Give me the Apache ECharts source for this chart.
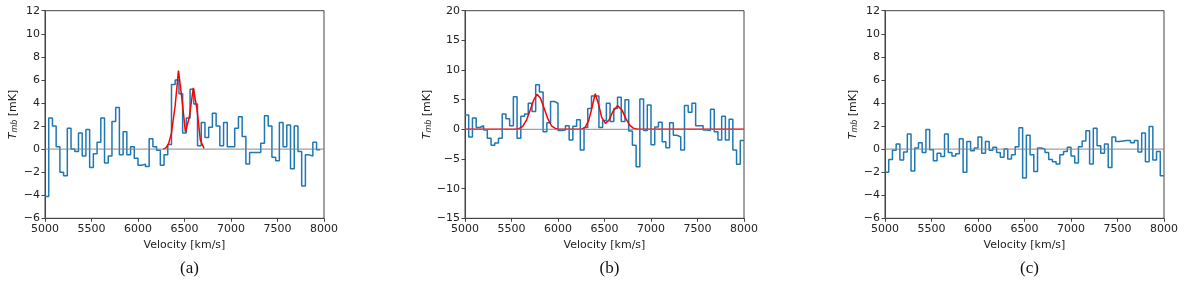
<!DOCTYPE html>
<html>
<head>
<meta charset="utf-8">
<script src="https://cdn.jsdelivr.net/npm/echarts@6/dist/echarts.min.js"></script>
<style>html,body{margin:0;padding:0;background:#fff;}#c{width:1200px;height:282px;}</style>
</head>
<body>
<div id="c"></div>
<script>
// ---- data ----
const binStart = 5000;   // km/s, left edge of first channel
const binWidth = 40;     // km/s, channel width
const xTicks = [5000, 5500, 6000, 6500, 7000, 7500, 8000];
const yTicksA = [-6, -4, -2, 0, 2, 4, 6, 8, 10, 12];
const yTicksB = [-15, -10, -5, 0, 5, 10, 15, 20];
const yTicksC = [-6, -4, -2, 0, 2, 4, 6, 8, 10, 12];
const captions = ['(a)', '(b)', '(c)'];

const specA = [-4.1, 2.7, 2.0, 0.2, -2.0, -2.3, 1.8, 0.0, -0.2, 1.4,
  -0.6, 1.7, -1.6, -0.4, 0.6, 2.7, -1.2, -0.6, 2.4, 3.6,
  -0.5, 1.5, -0.5, 0.2, -0.8, -1.4, -1.3, -1.5, 0.9, 0.2,
  -0.1, -1.4, -0.5, 0.4, 5.6, 6.0, 4.8, 1.4, 2.7, 5.2,
  3.9, 0.3, 2.3, 1.0, 1.9, 3.1, 2.0, 0.3, 2.3, 0.2,
  0.2, 1.8, 2.8, 1.1, -1.3, -0.3, -0.3, -0.3, 0.5, 2.9,
  2.0, -0.7, -1.0, 2.3, 0.2, 2.1, -1.7, 2.0, -0.2, -3.2,
  -0.5, -0.6, 0.6, -0.05];
const fitAx = [6270, 6300, 6330, 6360, 6400, 6435, 6470, 6510, 6550, 6595, 6635, 6670, 6710];
const fitAy = [0.0, 0.1, 0.5, 1.4, 3.8, 6.8, 4.5, 1.5, 2.7, 5.3, 3.4, 0.8, 0.05];

const specB = [2.4, -1.3, 1.9, 0.3, 0.6, -0.1, -1.5, -2.7, -2.3, -1.5,
  2.6, 1.8, 0.6, 5.5, -1.5, 2.2, 2.6, 4.4, 3.0, 7.5,
  6.3, -0.4, 1.1, 4.7, 4.4, -0.2, -0.1, 0.6, -1.8, 0.5,
  1.6, -3.5, 0.3, 3.5, 5.6, 5.6, 0.3, 1.5, 4.4, 1.3,
  3.5, 5.4, 1.3, 5.0, -0.3, -2.7, -6.3, 5.1, -0.2, 4.1,
  -2.6, 0.4, 1.2, -2.1, -3.1, 1.1, -1.0, -1.3, -3.5, 4.0,
  2.9, 4.4, 0.6, 0.6, -0.1, -0.2, 3.4, -0.4, -1.8, 2.2,
  -1.8, 1.7, -3.5, -5.9, -1.9];
const fitBx = [5000, 5540, 5580, 5620, 5660, 5700, 5740, 5775, 5810, 5850, 5890, 5930, 5970, 6010,
  6250, 6290, 6330, 6360, 6400, 6440, 6470, 6510, 6550, 6590, 6640, 6690, 6730, 6770, 6810, 6860, 8000];
const fitBy = [0, 0, 0.1, 0.5, 1.5, 3.2, 5.0, 5.9, 5.3, 3.6, 1.8, 0.6, 0.15, 0.02,
  0, 0.3, 1.5, 3.3, 6.0, 4.0, 2.0, 1.0, 1.6, 3.0, 4.0, 3.2, 1.8, 0.7, 0.2, 0.02, 0];

const specC = [-2.0, -0.9, -0.1, 0.45, -0.95, -0.25, 1.3, -1.9, 0.1, 0.55,
  -0.3, 1.7, -0.05, -1.0, -0.35, -0.65, 1.3, -0.3, -0.6, -0.4,
  0.9, -2.0, 0.65, -0.15, 0.1, 1.05, -0.35, 0.65, -0.1, 0.15,
  -0.3, -0.7, 0.0, -0.85, -0.5, 0.2, 1.85, -2.5, 1.2, -0.5,
  -1.95, 0.1, 0.0, -0.3, -0.9, -1.1, -1.3, -0.5, -0.2, 0.15,
  -0.6, -1.2, 0.2, 0.7, 1.6, -1.3, 1.8, 0.3, -0.35, 0.45,
  -1.6, 1.05, 0.65, 0.7, 0.75, 0.75, 0.55, 0.75, -0.25, 1.4,
  -1.1, 1.95, -0.95, -0.2, -2.3];

// ---- helpers ----
function stepPoints(vals) {
  const pts = vals.map((v, i) => [binStart + i * binWidth, v]);
  pts.push([binStart + vals.length * binWidth, vals[vals.length - 1]]);
  return pts;
}
function zip(xs, ys) { return xs.map((x, i) => [x, ys[i]]); }
const fmt = v => String(v).replace('-', '\u2212');

const lefts = [45, 465, 885];
const plotW = 279, plotTop = 10.7, plotH = 207.6;
const yRanges = [yTicksA, yTicksB, yTicksC];
const FONT = 'DejaVu Sans';
const frameColor = '#444';

const grids = [], xAxes = [], yAxes = [], series = [], titles = [];
for (let k = 0; k < 3; k++) {
  grids.push({ left: lefts[k], top: plotTop, width: plotW, height: plotH,
    show: true, borderColor: frameColor, borderWidth: 1, backgroundColor: 'transparent' });
  const yt = yRanges[k];
  xAxes.push({ type: 'value', gridIndex: k, min: xTicks[0], max: xTicks[xTicks.length - 1],
    interval: xTicks[1] - xTicks[0],
    axisLine: { show: true, onZero: false, lineStyle: { color: frameColor, width: 1 } },
    axisTick: { show: true, inside: false, length: 3.5, lineStyle: { color: frameColor, width: 1 } },
    axisLabel: { color: '#222', fontFamily: FONT, fontSize: 11, margin: 5, formatter: fmt },
    splitLine: { show: false },
    name: 'Velocity [km/s]', nameLocation: 'middle', nameGap: 17,
    nameTextStyle: { color: '#222', fontFamily: FONT, fontSize: 11 } });
  yAxes.push({ type: 'value', gridIndex: k, min: yt[0], max: yt[yt.length - 1],
    interval: yt[1] - yt[0],
    axisLine: { show: true, onZero: false, lineStyle: { color: frameColor, width: 1 } },
    axisTick: { show: true, inside: false, length: 3.5, lineStyle: { color: frameColor, width: 1 } },
    axisLabel: { color: '#222', fontFamily: FONT, fontSize: 11, margin: 5, formatter: fmt },
    splitLine: { show: false },
    name: '{t|T}{s|mb}{n| [mK]}', nameLocation: 'middle', nameGap: 26, nameRotate: 90,
    nameTextStyle: { color: '#222', fontFamily: FONT, fontSize: 11,
      rich: {
        t: { fontStyle: 'italic', fontSize: 11, fontFamily: FONT, color: '#222', verticalAlign: 'bottom', lineHeight: 14 },
        s: { fontStyle: 'italic', fontSize: 8, fontFamily: FONT, color: '#222', verticalAlign: 'bottom', lineHeight: 11 },
        n: { fontSize: 11, fontFamily: FONT, color: '#222', verticalAlign: 'bottom', lineHeight: 14 }
      } } });
  // zero line (drawn over the fit so the flat part of the fit looks tinted)
  series.push({ type: 'line', xAxisIndex: k, yAxisIndex: k, data: [[xTicks[0], 0], [xTicks[xTicks.length - 1], 0]],
    showSymbol: false, silent: true, lineStyle: { color: '#808080', width: 1.2, opacity: 0.75 }, z: 5 });
  titles.push({ text: captions[k], left: lefts[k] + plotW / 2, top: 255, textAlign: 'center',
    textStyle: { fontFamily: 'Liberation Serif', fontWeight: 'normal', fontSize: 17, color: '#111' } });
}
const specs = [specA, specB, specC];
for (let k = 0; k < 3; k++) {
  series.push({ type: 'line', xAxisIndex: k, yAxisIndex: k, data: stepPoints(specs[k]), step: 'end',
    showSymbol: false, clip: true, lineStyle: { color: '#1f77b4', width: 1.5 }, z: 3 });
}
series.push({ type: 'line', xAxisIndex: 0, yAxisIndex: 0, data: zip(fitAx, fitAy), showSymbol: false,
  lineStyle: { color: '#ff0000', width: 1.5 }, z: 4 });
series.push({ type: 'line', xAxisIndex: 1, yAxisIndex: 1, data: zip(fitBx, fitBy), showSymbol: false,
  lineStyle: { color: '#ff0000', width: 1.5 }, z: 4 });

const chart = echarts.init(document.getElementById('c'), null, { renderer: 'canvas' });
chart.setOption({ animation: false, backgroundColor: '#fff', title: titles,
  grid: grids, xAxis: xAxes, yAxis: yAxes, series: series });
</script>
</body>
</html>
